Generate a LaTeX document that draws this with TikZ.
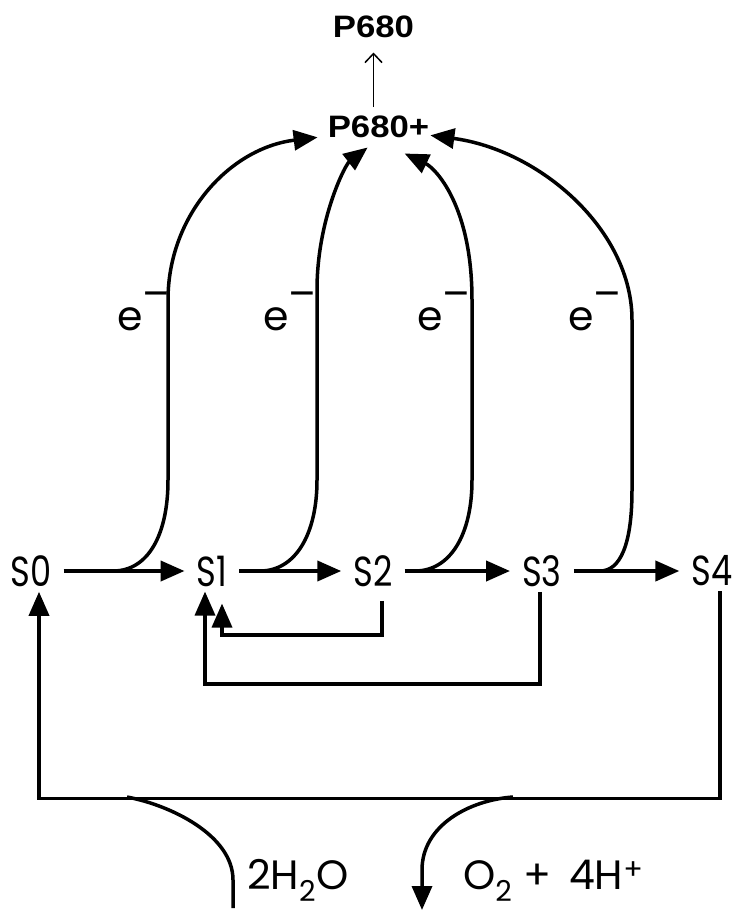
\documentclass[tikz,border=0pt]{standalone}
\usepackage{fontspec}
\usetikzlibrary{calc,arrows.meta}
\newfontfamily\statefont[FakeStretch=0.8]{Poppins}
\newfontfamily\labelfont{Poppins}
\newfontfamily\pfont[FakeStretch=1.12]{Liberation Sans}

\begin{document}
\begin{tikzpicture}[x=1pt, y=-1pt,
  state/.style={font=\statefont\fontsize{42}{42}\selectfont, inner xsep=12pt, inner ysep=5pt},
  chem/.style={font=\labelfont\fontsize{41}{41}\selectfont, inner sep=0pt, anchor=base west},
  pnode/.style={font=\pfont\bfseries\fontsize{31}{31}\selectfont, inner sep=0pt, anchor=base},
  tip/.style={-{Triangle[length=24pt,width=20pt]}},
  fwd/.style={tip, line width=4pt},
  eflow/.style={tip, line width=3.5pt},
  back/.style={tip, line width=3.5pt}]
\useasboundingbox (0,0) rectangle (731,913);

\node[pnode] (p) at (373.5,37) {P680};
\node[pnode] (pp) at (378.5,137) {P680+};
\draw[line width=1.5pt, -{Straight Barb[length=9pt,width=17pt]}, shorten <=8pt, shorten >=15pt] (pp.north -| p.south) -- (p.south);

\node[state] (s0) at (31,571) {S0};
\node[state] (s1) at (212,571) {S1};
\node[state] (s2) at (373,571) {S2};
\node[state] (s3) at (542,571) {S3};
\node[state] (s4) at (712,571) {S4};
\foreach \a/\b in {s0/s1,s1/s2,s2/s3,s3/s4} \draw[fwd] (\a) -- (\b);

\foreach \x [count=\i] in {117,263,417,568} \node[chem] (e\i) at (\x,330) {e\raisebox{0.52em}{–}};

\coordinate (b1) at (113,571);
\coordinate (b2) at (260,571);
\coordinate (b3) at (415,571);
\coordinate (b4) at (600,571);
\coordinate (t1) at ($(pp.west)+(-10,11)$);
\coordinate (t2) at ($(pp.south west)+(40,10)$);
\coordinate (t3) at ($(pp.south west)+(77,16)$);
\coordinate (t4) at ($(pp.east)+(1,9)$);
\draw[eflow] (b1) .. controls (148,571) and (168,535) .. (168,480) -- (168,300) .. controls (168,215) and (230,148) .. (t1);
\draw[eflow] (b2) .. controls (295,571) and (317,535) .. (317,480) -- (317,290) .. controls (317,220) and (345,165) .. (t2);
\draw[eflow] (b3) .. controls (450,571) and (472,535) .. (472,480) -- (472,300) .. controls (472,205) and (435,168) .. (t3);
\draw[eflow] (b4) .. controls (620,571) and (632,545) .. (632,490) -- (632,320) .. controls (632,230) and (540,150) .. (t4);

\draw[back, shorten <=9pt, shorten >=12pt] ([xshift=9pt]s2.south) -- ++(0,43) -| ([xshift=10pt]s1.south);
\draw[back] ([xshift=-2pt]s3.south) -- ++(0,92) -| ([xshift=-7pt]s1.south);
\draw[back] ([xshift=8pt]s4.south) -- ++(0,207) -| ([xshift=8pt]s0.south);

\coordinate (h2o) at (127,797);
\coordinate (o2) at (513,797);
\coordinate (win) at (233,908);
\coordinate (oout) at (422,910);
\draw[line width=3.5pt] (h2o) .. controls (170,805) and (233,835) .. (233,880) -- (win);
\draw[back] (o2) .. controls (470,800) and (422,825) .. (422,870) -- (oout);
\node[chem] (water) at (247,889) {2H\textsubscript{2}O};
\node[chem] (prod) at (463,889) {O\textsubscript{2} + \,4H\textsuperscript{+}};
\end{tikzpicture}
\end{document}
